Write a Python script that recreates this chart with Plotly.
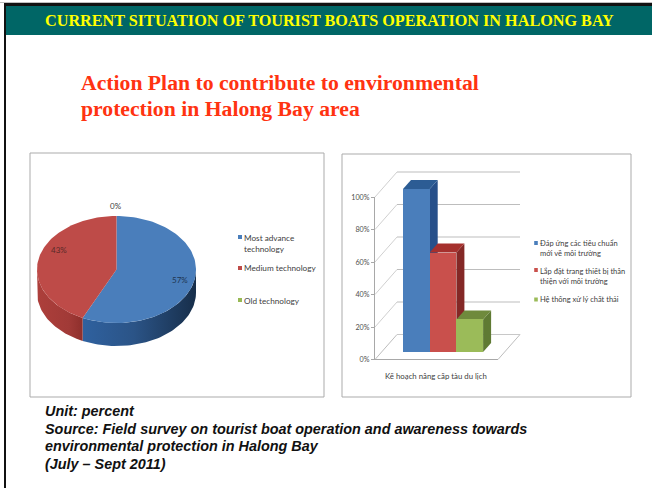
import numpy as np
import plotly.graph_objects as go

# ---- data ----
pie_labels = ["Most advance technology", "Medium technology", "Old technology"]
pie_values = [57, 43, 0]
pie_text = ["57%", "43%", "0%"]
pie_colors = ["#4A7EBB", "#BE4B48", "#98B954"]

bar_category = "Kế hoạch nâng cấp tàu du lịch"
bar_series = ["Đáp ứng các tiêu chuẩn<br>mới về môi trường",
              "Lắp đặt trang thiết bị thân<br>thiện với môi trường",
              "Hệ thống xử lý chất thải"]
bar_values = [100, 61, 20]
bar_colors = ["#4A7EBB", "#C9504C", "#9BBB59"]
bar_top = ["#2C5C94", "#A5302D", "#6F8A3C"]
bar_side = ["#27508A", "#842826", "#5F7A33"]
y_ticks = [0, 20, 40, 60, 80, 100]
y_ticklabels = ["0%", "20%", "40%", "60%", "80%", "100%"]

header = "CURRENT SITUATION OF TOURIST BOATS OPERATION IN HALONG BAY"
title_lines = ["Action Plan to contribute to environmental", "protection in Halong Bay area"]
note_lines = ["Unit: percent",
              "Source: Field survey on tourist boat operation and awareness towards",
              "environmental protection in Halong Bay",
              "(July – Sept 2011)"]

W, H = 652, 488
fig = go.Figure()


def poly(xs, ys, color=None, grad=None):
    kw = dict(x=list(xs), y=list(ys), mode="lines", fill="toself", line=dict(width=0),
              hoverinfo="skip", showlegend=False, xaxis="x", yaxis="y")
    if grad:
        kw["fillgradient"] = dict(type="horizontal", colorscale=grad)
    else:
        kw["fillcolor"] = color
    fig.add_trace(go.Scatter(**kw))


def seg(x0, y0, x1, y1, color="#BDBDBD", width=1):
    fig.add_trace(go.Scatter(x=[x0, x1], y=[y0, y1], mode="lines", line=dict(color=color, width=width),
                             hoverinfo="skip", showlegend=False, xaxis="x", yaxis="y"))


# ---- slide frame ----
poly([0, W, W, 0], [2, 2, 3, 3], "#BFBFBF")
poly([4, W, W, 4], [3, 3, 6, 6], "#111111")
poly([4, 6, 6, 4], [3, 3, H, H], "#111111")
poly([6, W, W, 6], [6, 6, 35, 35], "#006666")

# chart panels
for x0, x1, y0, y1 in [(30, 324, 153, 397), (342, 631, 154, 397)]:
    fig.add_trace(go.Scatter(x=[x0, x1, x1, x0, x0], y=[y0, y0, y1, y1, y0], mode="lines",
                             line=dict(color="#ABABAB", width=1), hoverinfo="skip", showlegend=False,
                             xaxis="x", yaxis="y"))

# ---- 3D pie, angles come from the values ----
cx, cy, rx, ry, depth = 116.5, 269.5, 79.5, 53.5, 23
total = sum(pie_values)
fracs = np.cumsum([0] + pie_values) / total * 2 * np.pi


def ell(t):
    return cx + rx * np.sin(t), cy - ry * np.cos(t)


split = fracs[1]
t_blue = np.linspace(np.pi / 2, split, 60)
xb, yb = ell(t_blue)
poly(np.r_[xb, xb[::-1]], np.r_[yb, yb[::-1] + depth],
     grad=[[0, "#2F619F"], [0.45, "#2B5487"], [1, "#172E4A"]])
t_red = np.linspace(split, 3 * np.pi / 2, 40)
xr, yr = ell(t_red)
poly(np.r_[xr, xr[::-1]], np.r_[yr, yr[::-1] + depth],
     grad=[[0, "#AD3F3B"], [0.7, "#A13A37"], [1, "#8E2F2C"]])
for i in range(2):
    t = np.linspace(fracs[i], fracs[i + 1], 100)
    xe, ye = ell(t)
    poly(np.r_[cx, xe, cx], np.r_[cy, ye, cy], pie_colors[i])

# ---- 3D bars: walls and floor ----
ax_l, ax_r, y0_px, y100_px = 375, 498, 359.5, 197
dx, dy = 22, -25
per_pct = (y0_px - y100_px) / 100
for v in y_ticks:
    yy = y0_px - v * per_pct
    seg(ax_l, yy, ax_l + dx, yy + dy, "#D0D0D0" if v else "#BDBDBD")
    if v:
        seg(ax_l + dx, yy + dy, ax_r + dx, yy + dy, "#BDBDBD")
seg(ax_l, y0_px, ax_r, y0_px, "#A8A8A8")
seg(ax_r, y0_px, ax_r + dx, y0_px + dy, "#BDBDBD")
seg(ax_l + dx, y0_px + dy, ax_r + dx, y0_px + dy, "#C8C8C8")

bar_l, bar_w, bar_y0, bar_y100 = 403, 26.7, 352, 189
bar_pct = (bar_y0 - bar_y100) / 100
ddx, ddy = 8, -9
for i, v in enumerate(bar_values):
    x0 = bar_l + i * bar_w
    x1 = x0 + bar_w
    top = bar_y0 - v * bar_pct
    poly([x1, x1 + ddx, x1 + ddx, x1], [top, top + ddy, bar_y0 + ddy, bar_y0], bar_side[i])
    poly([x0, x0 + ddx, x1 + ddx, x1], [top, top + ddy, top + ddy, top], bar_top[i])

for i, v in enumerate(bar_values):
    fig.add_trace(go.Bar(x=[i], y=[v], width=1, marker=dict(color=bar_colors[i], line=dict(width=0)),
                         name=bar_series[i].replace("<br>", " "), showlegend=False,
                         xaxis="x3", yaxis="y3", hoverinfo="name+y"))

fig.add_trace(go.Scatter(x=[0], y=[0], mode="markers", marker=dict(opacity=0, size=1), showlegend=False,
                         hoverinfo="skip", xaxis="x2", yaxis="y2"))

# ---- legend swatches ----
for (x, y), c in zip([(240, 237), (240, 268), (240, 300)], pie_colors):
    poly([x - 2, x + 2, x + 2, x - 2], [y - 2, y - 2, y + 2, y + 2], c)
for (x, y), c in zip([(536, 243), (536, 270), (536, 299.5)], bar_colors):
    poly([x - 1.8, x + 1.8, x + 1.8, x - 1.8], [y - 2, y - 2, y + 2, y + 2], c)

ann = []
LABEL = "Lato, Liberation Sans"


def text(x, y, s, size, color="#404040", family=LABEL, anchor="left", bold=False, italic=False):
    ann.append(dict(x=x, y=y, xref="x", yref="y", text=s, showarrow=False, xanchor=anchor, yanchor="middle",
                    align="left",
                    font=dict(size=size, color=color, family=family, weight="bold" if bold else "normal",
                              style="italic" if italic else "normal")))


text(329, 21, header, 16.2, "#FFFF00", "Liberation Serif", anchor="center", bold=True)
for y, s in zip([83, 109], title_lines):
    text(79, y, s, 21.7, "#FF3311", "Liberation Serif", bold=True)
for y, s in zip([411, 428.5, 446, 463.5], note_lines):
    text(42.5, y, s, 14.4, "#111111", "Liberation Sans", bold=True, italic=True)

text(115.5, 206, pie_text[2], 8, anchor="center")
text(59, 250, pie_text[1], 8, "#5A2A28", anchor="center")
text(180, 280, pie_text[0], 8, "#1F3550", anchor="center")
text(241.5, 243.5, "Most advance<br>technology", 8.2)
text(241.5, 268, pie_labels[1], 8.2)
text(241.5, 300.5, pie_labels[2], 8.2)
text(436, 376, bar_category, 7.8, anchor="center")
text(537.5, 248.5, bar_series[0], 7.5)
text(537.5, 276, bar_series[1], 7.5)
text(537.5, 299.5, bar_series[2], 7.5)


def dom_y(top_px, bottom_px):
    return [1 - bottom_px / H, 1 - top_px / H]


fig.update_layout(
    width=W, height=H, autosize=False, margin=dict(l=0, r=0, t=0, b=0, pad=0, autoexpand=False),
    paper_bgcolor="white", plot_bgcolor="rgba(0,0,0,0)", bargap=0, barmode="overlay",
    showlegend=False, annotations=ann,
    xaxis=dict(domain=[0, 1], range=[0, W], visible=False, fixedrange=True),
    yaxis=dict(domain=[0, 1], range=[H, 0], visible=False, fixedrange=True),
    xaxis2=dict(domain=[ax_l / W, ax_r / W], range=[0, 1], anchor="y2", visible=False, fixedrange=True),
    yaxis2=dict(domain=dom_y(y100_px, y0_px), range=[0, 100], anchor="x2", side="left",
                tickmode="array", tickvals=y_ticks, ticktext=y_ticklabels, ticks="outside", ticklen=3,
                tickcolor="#A8A8A8", showline=True, linecolor="#A8A8A8", linewidth=1, showgrid=False,
                zeroline=False, tickfont=dict(size=7.2, color="#505050", family=LABEL),
                fixedrange=True),
    xaxis3=dict(domain=[bar_l / W, (bar_l + 3 * bar_w) / W], range=[-0.5, 2.5], anchor="y3", visible=False,
                fixedrange=True),
    yaxis3=dict(domain=dom_y(bar_y100, bar_y0), range=[0, 100], anchor="x3", visible=False, fixedrange=True),
)

fig.write_html("out.html", config={"displayModeBar": False},
               post_script="document.body.style.margin='0';document.body.style.overflow='hidden';")
